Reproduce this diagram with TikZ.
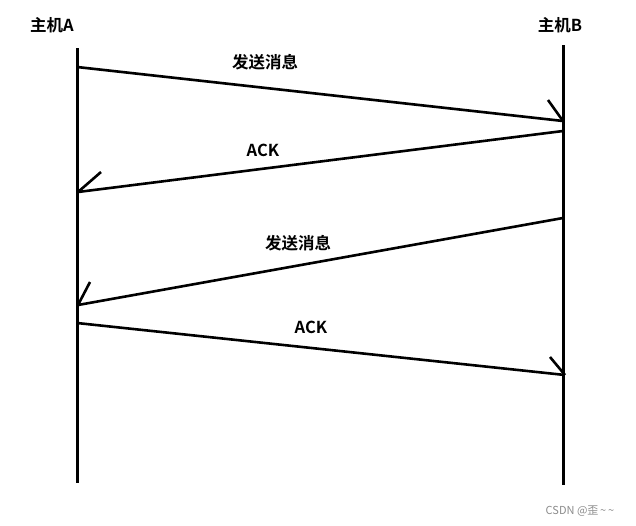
\documentclass[tikz,border=0pt]{standalone}
\usepackage{fontspec}
\newfontfamily\cjkbold{Noto Sans CJK SC Bold}
\newfontfamily\cjkreg{Noto Sans CJK SC}
\begin{document}
\begin{tikzpicture}[x=1pt,y=-1pt,
  lifeline/.style={line width=3pt},
  msg/.style={line width=2.6pt},
  barb/.style={line width=2.6pt},
  lbl/.style={font=\cjkbold\fontsize{16.5}{19}\selectfont, inner sep=0pt, text=black},
  wm/.style={font=\cjkreg\fontsize{11}{13}\selectfont, inner sep=0pt, text=black!45}]
\useasboundingbox (0,0) rectangle (636,525);
\fill[white] (0,0) rectangle (636,525);
% hosts
\node[lbl] (hA) at (52,25) {主机A};
\node[lbl] (hB) at (560,25) {主机B};
% lifelines
\coordinate (a0) at (77,48);
\coordinate (a1) at (77,483);
\coordinate (b0) at (563,45);
\coordinate (b1) at (563,485);
\draw[lifeline] (a0) -- (a1);
\draw[lifeline] (b0) -- (b1);
% message 1
\coordinate (m1s) at (77,67);
\coordinate (m1e) at (563,121);
\coordinate (m1b) at (548,100);
\draw[msg] (m1s) -- (m1e);
\draw[barb] (m1b) -- (m1e);
\node[lbl] (l1) at (265,62) {发送消息};
% ack 1
\coordinate (m2s) at (563,131);
\coordinate (m2e) at (78,192);
\coordinate (m2b) at (101,172);
\draw[msg] (m2s) -- (m2e);
\draw[barb] (m2b) -- (m2e);
\node[lbl] (l2) at (263,150) {ACK};
% message 2
\coordinate (m3s) at (563,218);
\coordinate (m3e) at (78,305);
\coordinate (m3b) at (90,282);
\draw[msg] (m3s) -- (m3e);
\draw[barb] (m3b) -- (m3e);
\node[lbl] (l3) at (298,243) {发送消息};
% ack 2
\coordinate (m4s) at (77,323);
\coordinate (m4e) at (565,375);
\coordinate (m4b) at (550,357);
\draw[msg] (m4s) -- (m4e);
\draw[barb] (m4b) -- (m4e);
\node[lbl] (l4) at (311,327) {ACK};
% watermark
\node[wm] (w) at (580,511) {CSDN @歪\,\textasciitilde\,\textasciitilde};
\end{tikzpicture}
\end{document}
